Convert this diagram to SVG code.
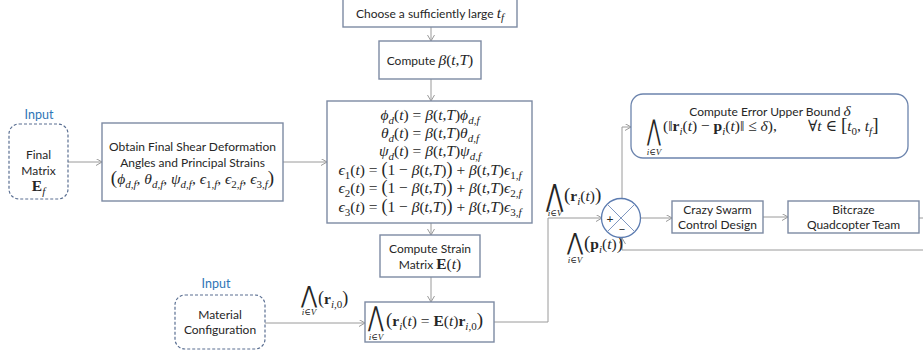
<svg xmlns="http://www.w3.org/2000/svg" width="923" height="356" viewBox="0 0 923 356">
<defs>
<marker id="ar" markerUnits="userSpaceOnUse" markerWidth="8" markerHeight="8" refX="6" refY="3.5" orient="auto">
<path d="M0,0 L6,3.5 L0,7" fill="none" stroke="#9a9a9a" stroke-width="1"/>
</marker>
<style>
.b{fill:#fff;stroke:#7d8aa3;stroke-width:1.4}
.d{fill:#fff;stroke:#5a6f92;stroke-width:1.2;stroke-dasharray:3 2}
.r{fill:#fff;stroke:#6c84ad;stroke-width:1.3}
.c{fill:none;stroke:#9a9a9a;stroke-width:1}
.t{font-family:Lato,"Open Sans",sans-serif;font-size:12px;fill:#262626;text-anchor:middle}
.in{font-family:Lato,"Open Sans",sans-serif;font-size:12.5px;fill:#2e75b6;text-anchor:middle}
.m{font-family:"Liberation Serif","DejaVu Serif",serif;font-size:15.5px;font-style:italic;fill:#262626}
.u{font-style:normal}
.bf{font-style:normal;font-weight:bold}
.s{font-size:11px}
.w{font-family:"DejaVu Serif","DejaVu Sans",serif;font-style:normal;font-size:28px;fill:#262626}
.v{font-family:"Liberation Serif","DejaVu Serif",serif;font-size:9px;font-style:italic;fill:#262626;text-anchor:middle}
</style>
</defs>

<g id="connectors">
<path class="c" d="M431,27 V41" marker-end="url(#ar)"/>
<path class="c" d="M431,79 V101" marker-end="url(#ar)"/>
<path class="c" d="M431,223 V235" marker-end="url(#ar)"/>
<path class="c" d="M431,277 V302" marker-end="url(#ar)"/>
<path class="c" d="M68,162 H102" marker-end="url(#ar)"/>
<path class="c" d="M283,162 H327" marker-end="url(#ar)"/>
<path class="c" d="M265,323 H365" marker-end="url(#ar)"/>
<path class="c" d="M494,322 H548 V218 H602" marker-end="url(#ar)"/>
<path class="c" d="M622,199 V127 H631" marker-end="url(#ar)"/>
<path class="c" d="M641,218 H672" marker-end="url(#ar)"/>
<path class="c" d="M763,217 H788" marker-end="url(#ar)"/>
<path class="c" d="M919,218 H923"/>
<path class="c" d="M923,250 H622 V238" marker-end="url(#ar)"/>
</g>

<g id="choose">
<rect class="b" x="343" y="-1" width="174" height="28"/>
<text class="t" x="430" y="18">Choose a sufficiently large <tspan class="m">t<tspan class="s" dy="3">f</tspan></tspan></text>
</g>

<g id="beta">
<rect class="b" x="379" y="41" width="102" height="38"/>
<text class="t" x="430" y="65">Compute <tspan class="m">β<tspan class="u">(</tspan>t<tspan class="u">,</tspan>T<tspan class="u">)</tspan></tspan></text>
</g>

<g id="equations">
<rect class="b" x="327" y="101" width="205" height="122"/>
<text class="m" x="430" y="120" text-anchor="middle">ϕ<tspan class="s" dy="3.5">d</tspan><tspan class="u" dy="-3.5">(</tspan>t<tspan class="u">) = </tspan>β<tspan class="u">(</tspan>t<tspan class="u">,</tspan>T<tspan class="u">)</tspan>ϕ<tspan class="s" dy="3.5">d,f</tspan></text>
<text class="m" x="430" y="138" text-anchor="middle">θ<tspan class="s" dy="3.5">d</tspan><tspan class="u" dy="-3.5">(</tspan>t<tspan class="u">) = </tspan>β<tspan class="u">(</tspan>t<tspan class="u">,</tspan>T<tspan class="u">)</tspan>θ<tspan class="s" dy="3.5">d,f</tspan></text>
<text class="m" x="430" y="156" text-anchor="middle">ψ<tspan class="s" dy="3.5">d</tspan><tspan class="u" dy="-3.5">(</tspan>t<tspan class="u">) = </tspan>β<tspan class="u">(</tspan>t<tspan class="u">,</tspan>T<tspan class="u">)</tspan>ψ<tspan class="s" dy="3.5">d,f</tspan></text>
<text class="m" x="430" y="175" text-anchor="middle">ϵ<tspan class="s u" dy="3.5">1</tspan><tspan class="u" dy="-3.5">(</tspan>t<tspan class="u">) = </tspan><tspan class="u" font-size="18">(</tspan><tspan class="u">1 − </tspan>β<tspan class="u">(</tspan>t<tspan class="u">,</tspan>T<tspan class="u">)</tspan><tspan class="u" font-size="18">)</tspan><tspan class="u"> + </tspan>β<tspan class="u">(</tspan>t<tspan class="u">,</tspan>T<tspan class="u">)</tspan>ϵ<tspan class="s" dy="3.5"><tspan class="u">1,</tspan>f</tspan></text>
<text class="m" x="430" y="193" text-anchor="middle">ϵ<tspan class="s u" dy="3.5">2</tspan><tspan class="u" dy="-3.5">(</tspan>t<tspan class="u">) = </tspan><tspan class="u" font-size="18">(</tspan><tspan class="u">1 − </tspan>β<tspan class="u">(</tspan>t<tspan class="u">,</tspan>T<tspan class="u">)</tspan><tspan class="u" font-size="18">)</tspan><tspan class="u"> + </tspan>β<tspan class="u">(</tspan>t<tspan class="u">,</tspan>T<tspan class="u">)</tspan>ϵ<tspan class="s" dy="3.5"><tspan class="u">2,</tspan>f</tspan></text>
<text class="m" x="430" y="212" text-anchor="middle">ϵ<tspan class="s u" dy="3.5">3</tspan><tspan class="u" dy="-3.5">(</tspan>t<tspan class="u">) = </tspan><tspan class="u" font-size="18">(</tspan><tspan class="u">1 − </tspan>β<tspan class="u">(</tspan>t<tspan class="u">,</tspan>T<tspan class="u">)</tspan><tspan class="u" font-size="18">)</tspan><tspan class="u"> + </tspan>β<tspan class="u">(</tspan>t<tspan class="u">,</tspan>T<tspan class="u">)</tspan>ϵ<tspan class="s" dy="3.5"><tspan class="u">3,</tspan>f</tspan></text>
</g>

<g id="strain">
<rect class="b" x="380" y="235" width="100" height="42"/>
<text class="t" x="430" y="253">Compute Strain</text>
<text class="t" x="430" y="269">Matrix <tspan class="m bf">E</tspan><tspan class="m u">(</tspan><tspan class="m">t</tspan><tspan class="m u">)</tspan></text>
</g>

<g id="positions">
<rect class="b" x="365" y="302" width="129" height="40"/>
<text class="w" transform="translate(368,325.6) scale(0.68,0.98)">⋀</text>
<text class="v" x="376" y="340">i∈V</text>
<text class="m" x="386" y="326"><tspan class="u" font-size="19">(</tspan><tspan class="bf">r</tspan><tspan class="s" dy="3.5">i</tspan><tspan class="u" dy="-3.5">(</tspan>t<tspan class="u">) = </tspan><tspan class="bf">E</tspan><tspan class="u">(</tspan>t<tspan class="u">)</tspan><tspan class="bf">r</tspan><tspan class="s" dy="3.5">i<tspan class="u">,0</tspan></tspan><tspan class="u" font-size="19" dy="-3.5">)</tspan></text>
</g>

<g id="final-matrix">
<text class="in" x="39" y="119">Input</text>
<rect class="d" x="9" y="124" width="59" height="75" rx="10"/>
<text class="t" x="38.5" y="159" font-size="12.5">Final</text>
<text class="t" x="38.5" y="175" font-size="12.5">Matrix</text>
<text class="m" x="38.5" y="191" text-anchor="middle"><tspan class="bf">E</tspan><tspan class="s" dy="3.5">f</tspan></text>
</g>

<g id="obtain">
<rect class="b" x="102" y="123" width="181" height="78"/>
<text class="t" x="192.5" y="151">Obtain Final Shear Deformation</text>
<text class="t" x="192.5" y="167">Angles and Principal Strains</text>
<text class="m" x="192.5" y="184" text-anchor="middle"><tspan class="u" font-size="19">(</tspan>ϕ<tspan class="s" dy="3.5">d,f</tspan><tspan class="u" dy="-3.5">, </tspan>θ<tspan class="s" dy="3.5">d,f</tspan><tspan class="u" dy="-3.5">, </tspan>ψ<tspan class="s" dy="3.5">d,f</tspan><tspan class="u" dy="-3.5">, </tspan>ϵ<tspan class="s" dy="3.5"><tspan class="u">1,</tspan>f</tspan><tspan class="u" dy="-3.5">, </tspan>ϵ<tspan class="s" dy="3.5"><tspan class="u">2,</tspan>f</tspan><tspan class="u" dy="-3.5">, </tspan>ϵ<tspan class="s" dy="3.5"><tspan class="u">3,</tspan>f</tspan><tspan class="u" font-size="19" dy="-3.5">)</tspan></text>
</g>

<g id="material">
<text class="in" x="216" y="288">Input</text>
<rect class="d" x="175" y="295" width="90" height="54" rx="10"/>
<text class="t" x="220" y="319" font-size="12.5">Material</text>
<text class="t" x="220" y="334" font-size="12.5">Configuration</text>
</g>

<g id="label-r0">
<text class="w" transform="translate(301,302.6) scale(0.7,0.84)">⋀</text>
<text class="v" x="309" y="315">i∈V</text>
<text class="m" x="318" y="304"><tspan class="u" font-size="18">(</tspan><tspan class="bf">r</tspan><tspan class="s" dy="3.5">i<tspan class="u">,0</tspan></tspan><tspan class="u" font-size="18" dy="-3.5">)</tspan></text>
</g>

<g id="label-rt">
<text class="w" transform="translate(546,206) scale(0.75,1.09)">⋀</text>
<text class="v" x="555" y="216">i∈V</text>
<text class="m" x="564" y="201"><tspan class="u" font-size="19">(</tspan><tspan class="bf">r</tspan><tspan class="s" dy="3.5">i</tspan><tspan class="u" dy="-3.5">(</tspan>t<tspan class="u">)</tspan><tspan class="u" font-size="19">)</tspan></text>
</g>

<g id="label-pt">
<text class="w" transform="translate(567,249.6) scale(0.7,0.84)">⋀</text>
<text class="v" x="575" y="263">i∈V</text>
<text class="m" x="584" y="249"><tspan class="u" font-size="19">(</tspan><tspan class="bf">p</tspan><tspan class="s" dy="3.5">i</tspan><tspan class="u" dy="-3.5">(</tspan>t<tspan class="u">)</tspan><tspan class="u" font-size="19">)</tspan></text>
</g>

<g id="sum">
<circle cx="621" cy="218" r="19.5" fill="#fff" stroke="#5b7bb0" stroke-width="1.3"/>
<path d="M607.2,204.2 L634.8,231.8 M634.8,204.2 L607.2,231.8" stroke="#7f97c0" stroke-width="1"/>
<text class="t" x="610" y="223" font-size="14">+</text>
<text class="t" x="622" y="233" font-size="14">−</text>
</g>

<g id="error-bound">
<rect class="r" x="631" y="94" width="277" height="64" rx="12"/>
<text class="t" x="770" y="116">Compute Error Upper Bound <tspan class="m">δ</tspan></text>
<text class="w" transform="translate(647,140.4) scale(0.6,1.02)">⋀</text>
<text class="v" x="654" y="155">i∈V</text>
<text class="m" x="663" y="131" font-size="16"><tspan class="u">(‖</tspan><tspan class="bf">r</tspan><tspan class="s" dy="3.5">i</tspan><tspan class="u" dy="-3.5">(</tspan>t<tspan class="u">) − </tspan><tspan class="bf">p</tspan><tspan class="s" dy="3.5">i</tspan><tspan class="u" dy="-3.5">(</tspan>t<tspan class="u">)‖ ≤ </tspan>δ<tspan class="u">),</tspan></text>
<text class="m" x="808" y="131" font-size="16"><tspan class="u">∀</tspan>t<tspan class="u"> ∈ </tspan><tspan class="u" font-size="19">[</tspan>t<tspan class="s u" dy="3.5">0</tspan><tspan class="u" dy="-3.5">, </tspan>t<tspan class="s" dy="3.5">f</tspan><tspan class="u" font-size="19" dy="-3.5">]</tspan></text>
</g>

<g id="crazyswarm">
<rect class="b" x="672" y="201" width="91" height="32"/>
<text class="t" x="717.5" y="214">Crazy Swarm</text>
<text class="t" x="717.5" y="229">Control Design</text>
</g>

<g id="bitcraze">
<rect class="b" x="788" y="201" width="131" height="32"/>
<text class="t" x="853.5" y="214">Bitcraze</text>
<text class="t" x="853.5" y="229">Quadcopter Team</text>
</g>
</svg>
